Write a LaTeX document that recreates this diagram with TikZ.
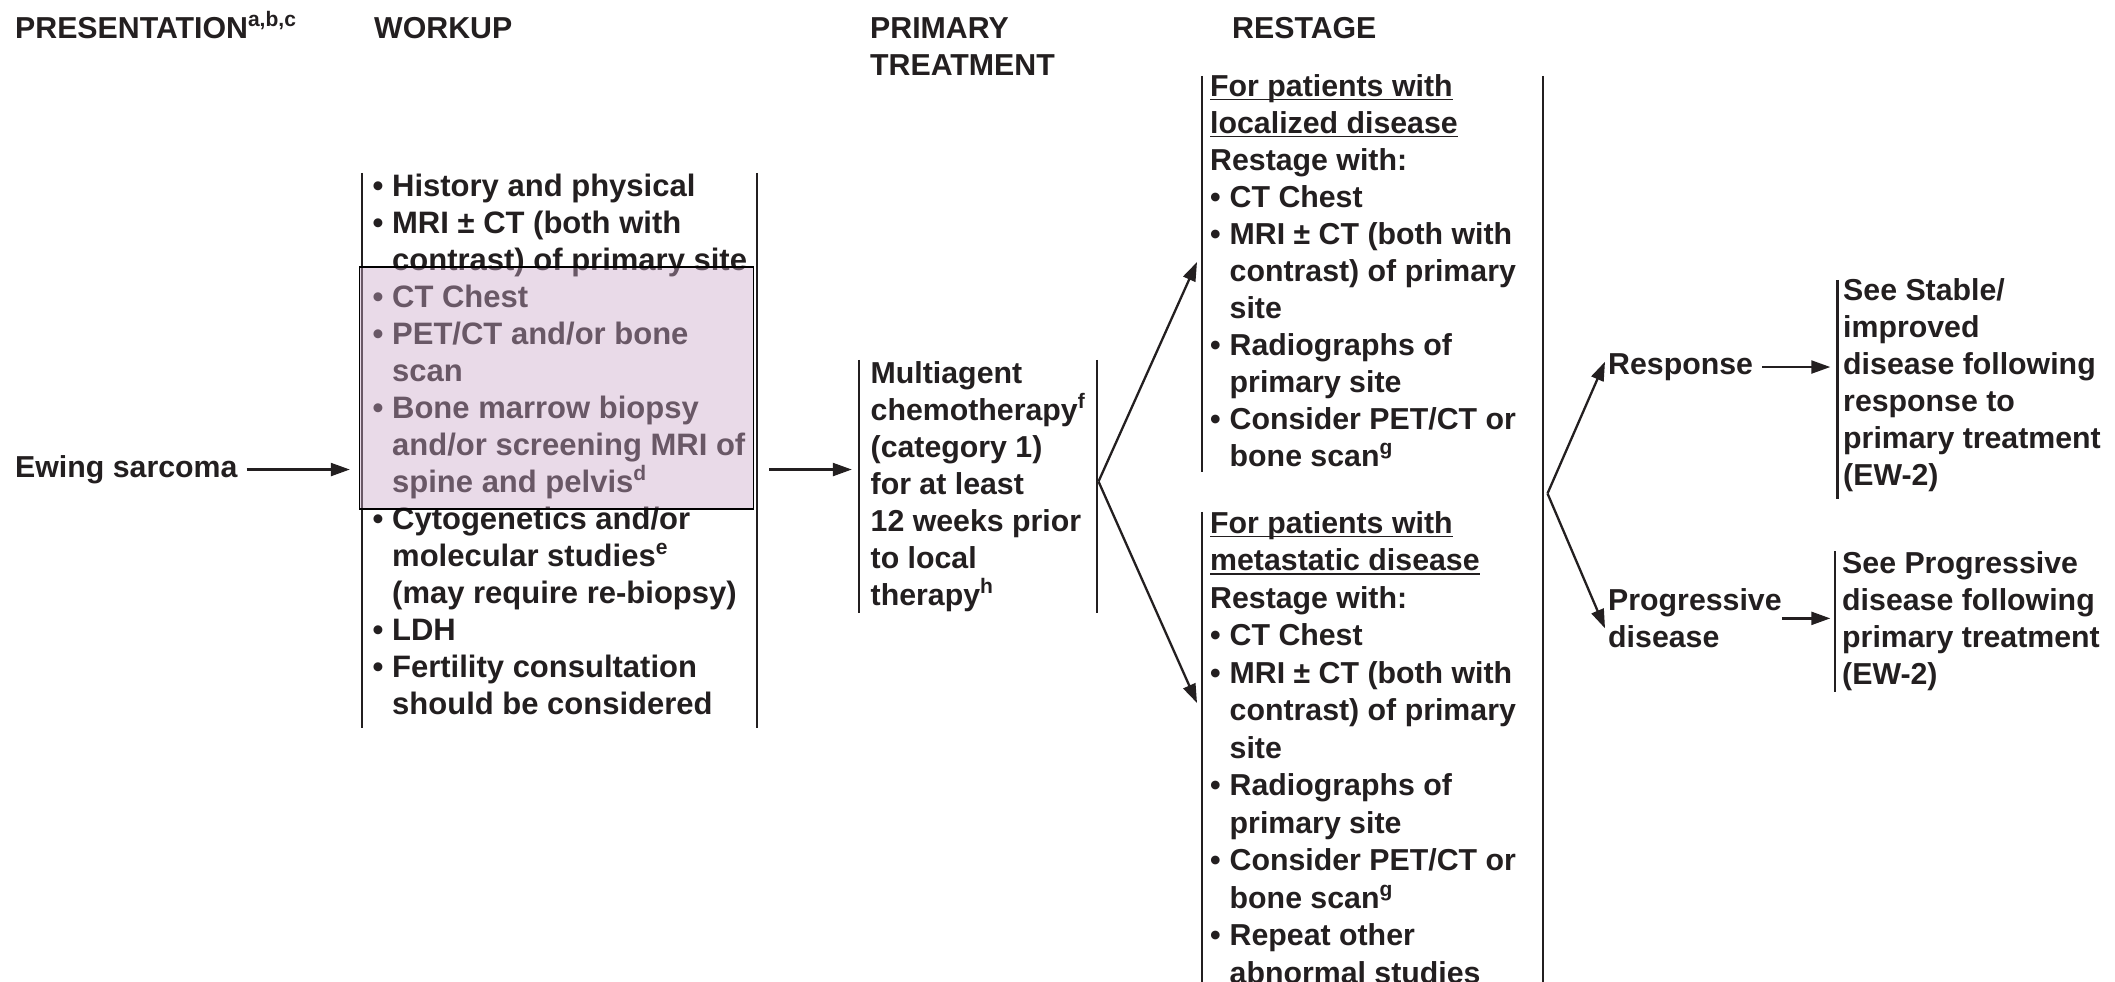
\documentclass[tikz,border=0pt]{standalone}
\usepackage{fontspec}
\setmainfont{Liberation Sans}
\usetikzlibrary{arrows.meta,calc}

\definecolor{ink}{RGB}{35,31,32}
\definecolor{hlpink}{RGB}{203,167,200}

% one line of a text column
\newcommand\tline[1]{\hbox{#1}}
% bullet with fixed hanging indent, and the matching indent for wrapped lines
\newcommand\bul{\hbox to 19.5pt{•\hss}}
\newcommand\ind{\hskip19.5pt}
% footnote letters
\newcommand\sups[1]{\raisebox{12pt}{\fontsize{21}{21}\selectfont #1}}
% underline sitting just below the baseline
\newcommand\ulx[1]{\setbox0=\hbox{#1}\rlap{\rule[-4pt]{\wd0}{1.4pt}}\box0}

\tikzset{
  txt/.style={anchor=base west, inner sep=0pt, text=ink,
              font=\fontsize{30.3}{37}\selectfont\bfseries},
  wide/.style={font=\fontsize{31}{37}\selectfont\bfseries},
  blk/.style={inner sep=0pt, draw=none},
  edge/.style={draw=ink, line width=2.4pt},
  arr/.style={draw=ink, line width=2.3pt, -{Triangle[length=19pt,width=13pt]}},
  hlbox/.style={draw=black, line width=1.6pt, fill=hlpink, fill opacity=0.42, inner sep=0pt},
}

\begin{document}
\begin{tikzpicture}[x=1pt,y=-1pt]
\useasboundingbox (0,0) rectangle (2115,982);
\clip (0,0) rectangle (2115,982);

% column headings
\node[txt] (h1) at (15,38.3) {PRESENTATION\sups{a,b,c}};
\node[txt] (h2) at (374,38.3) {WORKUP};
\node[txt] (h3) at (870,38.3) {\vtop{\tline{PRIMARY}\tline{TREATMENT}}};
\node[txt] (h4) at (1232,38.3) {RESTAGE};

% column blocks (only their side rules are drawn)
\node[blk, minimum width=395pt, minimum height=555pt] (wk)  at (559.5,450.5) {};
\node[blk, minimum width=238pt, minimum height=253pt] (pt)  at (978,486.5) {};
\node[blk, minimum width=341pt, minimum height=396pt] (rsA) at (1372.5,274) {};
\node[blk, minimum width=341pt, minimum height=478pt] (rsB) at (1372.5,751) {};
\node[blk, minimum width=260pt, minimum height=219pt] (seA) at (1967.5,389.5) {};
\node[blk, minimum width=262pt, minimum height=140pt] (seB) at (1966,621.5) {};

\draw[edge] (wk.north west) -- (wk.south west) (wk.north east) -- (wk.south east);
\draw[edge] (pt.north west) -- (pt.south west) (pt.north east) -- (pt.south east);
\draw[edge] (rsA.north west) -- (rsA.south west) (rsB.north west) -- (rsB.south west);
\draw[edge] (rsA.north east) -- (rsB.south east);
\draw[edge] (seA.north west) -- (seA.south west) (seB.north west) -- (seB.south west);

% presentation
\node[txt] (ew) at (15,477.3) {Ewing sarcoma};

% workup
\node[txt, wide] (wktext) at (372.5,196) {\vtop{%
  \tline{\bul History and physical}
  \tline{\bul MRI ± CT (both with}
  \tline{\ind contrast) of primary site}
  \tline{\bul CT Chest}
  \tline{\bul PET/CT and/or bone}
  \tline{\ind scan}
  \tline{\bul Bone marrow biopsy}
  \tline{\ind and/or screening MRI of}
  \tline{\ind spine and pelvis\sups{d}}
  \tline{\bul Cytogenetics and/or}
  \tline{\ind molecular studies\sups{e}}
  \tline{\ind (may require re-biopsy)}
  \tline{\bul LDH}
  \tline{\bul Fertility consultation}
  \tline{\ind should be considered}}};
\node[hlbox, minimum width=394pt, minimum height=242pt] (hl) at (556.3,388) {};

% primary treatment
\node[txt] (pttext) at (870.5,383.5) {\vtop{%
  \tline{Multiagent}
  \tline{chemotherapy\sups{f}}
  \tline{(category 1)}
  \tline{for at least}
  \tline{12 weeks prior}
  \tline{to local}
  \tline{therapy\sups{h}}}};

% restage
\node[txt] (rsAtext) at (1210,96) {\vtop{%
  \tline{\ulx{For patients with}}
  \tline{\ulx{localized disease}}
  \tline{Restage with:}
  \tline{\bul CT Chest}
  \tline{\bul MRI ± CT (both with}
  \tline{\ind contrast) of primary}
  \tline{\ind site}
  \tline{\bul Radiographs of}
  \tline{\ind primary site}
  \tline{\bul Consider PET/CT or}
  \tline{\ind bone scan\sups{g}}}};

\node[txt] (rsBtext) at (1210,533) {\vtop{\baselineskip=37.5pt
  \tline{\ulx{For patients with}}
  \tline{\ulx{metastatic disease}}
  \tline{Restage with:}
  \tline{\bul CT Chest}
  \tline{\bul MRI ± CT (both with}
  \tline{\ind contrast) of primary}
  \tline{\ind site}
  \tline{\bul Radiographs of}
  \tline{\ind primary site}
  \tline{\bul Consider PET/CT or}
  \tline{\ind bone scan\sups{g}}
  \tline{\bul Repeat other}
  \tline{\ind abnormal studies}}};

% outcomes
\node[txt] (resp) at (1608,374.3) {Response};
\node[txt] (prog) at (1608,610.7) {\vtop{\tline{Progressive}\tline{disease}}};

\node[txt] (seAtext) at (1843,300.7) {\vtop{%
  \tline{See Stable/}
  \tline{improved}
  \tline{disease following}
  \tline{response to}
  \tline{primary treatment}
  \tline{(EW-2)}}};
\node[txt] (seBtext) at (1842,573.3) {\vtop{%
  \tline{See Progressive}
  \tline{disease following}
  \tline{primary treatment}
  \tline{(EW-2)}}};

% connectors
\draw[arr, shorten <=9pt, shorten >=12pt] (ew.east) -- (ew.east -| wk.west);
\draw[arr, shorten <=12pt, shorten >=7pt] (wk.east |- ew.east) -- (pt.west |- ew.east);

\coordinate (f1) at (1098.5,481.5);
\coordinate (f1a) at (1197,262);
\coordinate (f1b) at (1197,703);
\draw[arr] (f1) -- (f1a);
\draw[arr] (f1) -- (f1b);

\coordinate (f2) at (1547.5,493.5);
\coordinate (f2a) at (1605,361.7);
\coordinate (f2b) at (1605,628.3);
\draw[arr] (f2) -- (f2a);
\draw[arr] (f2) -- (f2b);

\draw[arr, shorten <=9pt, shorten >=7pt] (resp.east) -- (resp.east -| seA.west);
\draw[arr, shorten >=4.5pt] (prog.east) -- (prog.east -| seB.west);
\end{tikzpicture}
\end{document}
